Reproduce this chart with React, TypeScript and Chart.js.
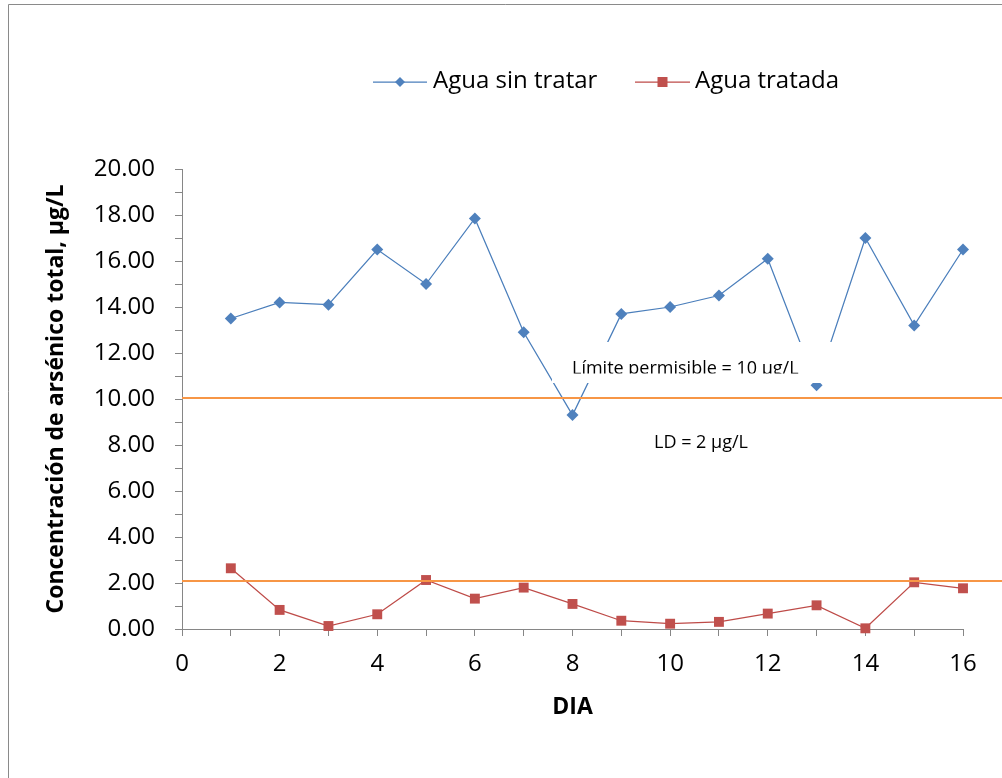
import React, { useEffect, useRef } from "react";
import { Chart, registerables } from "chart.js";

Chart.register(...registerables);

// ---- data ----
const days = [1, 2, 3, 4, 5, 6, 7, 8, 9, 10, 11, 12, 13, 14, 15, 16];
const aguaSinTratar = [13.5, 14.2, 14.1, 16.5, 15.0, 17.85, 12.9, 9.3, 13.7, 14.0, 14.5, 16.1, 10.6, 17.0, 13.2, 16.5];
const aguaTratada = [2.64, 0.83, 0.13, 0.64, 2.13, 1.32, 1.8, 1.09, 0.36, 0.23, 0.31, 0.67, 1.03, 0.03, 2.03, 1.77];
const seriesNames = ["Agua sin tratar", "Agua tratada"];
const xLabelValues = [0, 2, 4, 6, 8, 10, 12, 14, 16];
const yLabelValues = [0, 2, 4, 6, 8, 10, 12, 14, 16, 18, 20];
const referenceLines = [10.05, 2.08];
const annotationTexts = ["Límite permisible = 10 µg/L", "LD = 2 µg/L"];
const yTitle = "Concentración de arsénico total, µg/L";
const xTitle = "DIA";

const FONT = "'Open Sans', sans-serif";
const BLUE = "#4A7EBB";
const BLUE_M = "#4F81BD";
const RED = "#BE4B48";
const RED_M = "#C0504D";
const ORANGE = "#F79646";
const AXIS = "#868686";

const overlayPlugin = {
  id: "overlay",
  beforeDraw(chart: any) {
    const { ctx, width, height } = chart;
    ctx.save();
    ctx.strokeStyle = "#8a8a8a";
    ctx.lineWidth = 1;
    ctx.beginPath();
    ctx.moveTo(0.5, height);
    ctx.lineTo(0.5, 0.5);
    ctx.lineTo(width, 0.5);
    ctx.stroke();
    ctx.restore();
  },
  afterDatasetsDraw(chart: any) {
    const { ctx, width, chartArea } = chart;
    const y = chart.scales.y;
    ctx.save();
    // reference lines
    ctx.strokeStyle = ORANGE;
    ctx.lineWidth = 2;
    for (const v of referenceLines) {
      const py = Math.round(y.getPixelForValue(v));
      ctx.beginPath();
      ctx.moveTo(chartArea.left, py);
      ctx.lineTo(width, py);
      ctx.stroke();
    }
    // text box for the limit
    ctx.fillStyle = "#ffffff";
    ctx.fillRect(544, 338, 283, 41);
    ctx.save();
    ctx.beginPath();
    ctx.rect(544, 338, 283, 31.5);
    ctx.clip();
    ctx.fillStyle = "#000";
    ctx.font = `18px ${FONT}`;
    ctx.textBaseline = "alphabetic";
    ctx.textAlign = "left";
    ctx.fillText(annotationTexts[0], 564, 369.5);
    ctx.restore();
    ctx.fillStyle = "#000";
    ctx.font = `18px ${FONT}`;
    ctx.textBaseline = "alphabetic";
    ctx.textAlign = "left";
    ctx.fillText(annotationTexts[1], 646, 444);
    // legend
    const ly = 78;
    ctx.lineWidth = 1.25;
    ctx.strokeStyle = BLUE;
    ctx.beginPath();
    ctx.moveTo(365, ly);
    ctx.lineTo(419, ly);
    ctx.stroke();
    ctx.fillStyle = BLUE_M;
    ctx.beginPath();
    ctx.moveTo(392 - 5, ly);
    ctx.lineTo(392, ly - 5);
    ctx.lineTo(392 + 5, ly);
    ctx.lineTo(392, ly + 5);
    ctx.closePath();
    ctx.fill();
    ctx.strokeStyle = RED;
    ctx.beginPath();
    ctx.moveTo(627, ly);
    ctx.lineTo(682, ly);
    ctx.stroke();
    ctx.fillStyle = RED_M;
    ctx.fillRect(654.5 - 5, ly - 5, 10, 10);
    ctx.fillStyle = "#000";
    ctx.font = `24px ${FONT}`;
    ctx.textBaseline = "middle";
    ctx.fillText(seriesNames[0], 425, 77);
    ctx.fillText(seriesNames[1], 687, 77);
    ctx.restore();
  },
};

export default function App() {
  const ref = useRef<HTMLCanvasElement | null>(null);
  useEffect(() => {
    if (!ref.current) return;
    const chart = new Chart(ref.current, {
      type: "line",
      data: {
        datasets: [
          {
            label: seriesNames[0],
            data: days.map((d, i) => ({ x: d, y: aguaSinTratar[i] })),
            borderColor: BLUE,
            backgroundColor: BLUE_M,
            borderWidth: 1.25,
            pointStyle: "rectRot",
            pointRadius: 6,
            pointBorderWidth: 0,
            pointBackgroundColor: BLUE_M,
            tension: 0,
            clip: false,
          },
          {
            label: seriesNames[1],
            data: days.map((d, i) => ({ x: d, y: aguaTratada[i] })),
            borderColor: RED,
            backgroundColor: RED_M,
            borderWidth: 1.25,
            pointStyle: "rect",
            pointRadius: 7,
            pointBorderWidth: 0,
            pointBackgroundColor: RED_M,
            tension: 0,
            clip: false,
          },
        ],
      },
      options: {
        responsive: false,
        animation: false,
        layout: { padding: { top: 165, left: 0, right: 39, bottom: 49 } },
        plugins: { legend: { display: false }, tooltip: { enabled: false } },
        scales: {
          x: {
            type: "linear",
            min: 0,
            max: 16,
            afterFit: (s: any) => {
              s.height = 100;
            },
            border: { display: true, color: AXIS, width: 1 },
            grid: { drawOnChartArea: false, drawTicks: true, tickLength: 7, color: AXIS },
            ticks: {
              stepSize: 1,
              autoSkip: false,
              maxRotation: 0,
              padding: 14,
              color: "#000",
              font: { family: FONT, size: 24 },
              callback: (v: any) => (xLabelValues.includes(Number(v)) ? String(v) : ""),
            },
            title: {
              display: true,
              text: xTitle,
              color: "#000",
              font: { family: FONT, size: 23, weight: "bold" },
              padding: { top: 0, bottom: 8 },
            },
          },
          y: {
            type: "linear",
            min: 0,
            max: 20,
            afterFit: (s: any) => {
              s.width = 174;
            },
            border: { display: true, color: AXIS, width: 1 },
            grid: { drawOnChartArea: false, drawTicks: true, tickLength: 7, color: AXIS },
            ticks: {
              stepSize: 1,
              autoSkip: false,
              maxTicksLimit: 100,
              padding: 20,
              color: "#000",
              font: { family: FONT, size: 24 },
              callback: (v: any) => (yLabelValues.includes(Number(v)) ? Number(v).toFixed(2) : ""),
            },
            title: {
              display: true,
              text: yTitle,
              color: "#000",
              font: { family: FONT, size: 23, weight: "bold" },
              padding: { top: 35, bottom: 0 },
            },
          },
        },
      },
      plugins: [overlayPlugin],
    });
    return () => chart.destroy();
  }, []);
  return (
    <div style={{ position: "absolute", left: 8, top: 4, width: 994, height: 774 }}>
      <canvas ref={ref} width={994} height={774} />
    </div>
  );
}
